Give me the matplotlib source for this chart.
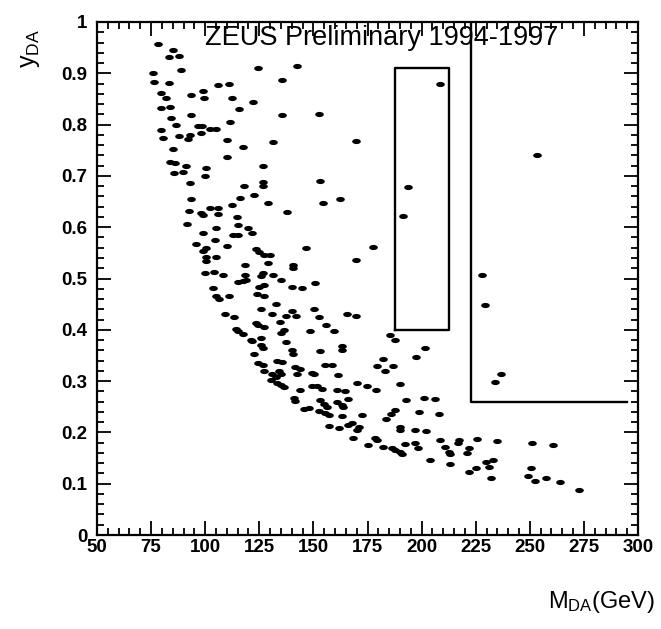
import numpy as np
import matplotlib
matplotlib.use("Agg")
import matplotlib.pyplot as plt
from matplotlib.path import Path
from matplotlib.ticker import AutoMinorLocator, FuncFormatter

plt.rcParams['font.family'] = ['Liberation Sans', 'DejaVu Sans']
plt.rcParams['mathtext.default'] = 'regular'

# selected NC events, (M_DA [GeV], y_DA)
m_da = [
    78.3, 85.2, 83.3, 87.8, 88.7, 124.2, 75.7, 76.3, 83.2, 135.6, 105.8, 110.9,
    79.5, 82.1, 93.3, 98.9, 99.4, 112.2, 122.3, 79.8, 83.9, 115.4, 84.4, 93.6,
    135.6, 86.7, 111.6, 96.5, 98.5, 79.5, 80.6, 87.9, 92.8, 92.0, 98.2, 102.0,
    105.0, 85.2, 110.1, 117.3, 131.5, 83.9, 85.9, 91.3, 100.5, 110.1, 126.9,
    85.6, 89.8, 99.7, 92.8, 117.7, 126.5, 126.5,
    142.5, 152.4, 169.7, 153.2, 208.7, 193.7,
    154.3, 162.1, 137.6, 191.4, 146.8, 177.6, 169.6, 140.7, 140.7, 134.9,
    140.2, 144.8, 150.9, 150.1, 140.2, 142.1, 137.2, 152.8, 165.7, 169.7,
    156.0, 136.4, 148.6, 159.6, 185.6, 187.9,
    93.3, 116.1, 122.6, 129.2, 92.5, 98.2, 98.9, 102.0, 105.8, 106.1, 112.4,
    91.7, 114.5, 105.0, 115.0, 119.6, 98.9, 112.7, 115.0, 121.8, 104.7, 95.9,
    100.5, 99.2, 109.9, 123.4, 125.0, 127.2, 129.8, 100.5, 100.5, 105.0,
    129.2, 118.3, 99.7, 104.0, 108.4, 118.3, 118.8, 126.9, 125.7, 131.5,
    115.0, 117.3, 103.5, 124.9, 127.2, 105.0, 106.3, 110.9, 123.9, 127.2,
    132.6, 125.7, 109.3, 113.1, 131.0, 123.4, 124.2, 127.2, 134.5, 114.2,
    115.0, 117.3, 121.1, 125.7, 134.9,
    121.8, 125.7, 126.5, 122.6, 137.2, 124.2, 126.5, 133.3, 135.6, 127.2,
    131.0, 132.6, 130.3, 134.1, 134.9, 133.3, 134.9, 136.4,
    140.2, 140.7, 152.9, 163.1, 163.4, 201.7, 197.2, 182.2, 141.7, 144.0,
    155.5, 158.8, 179.2, 186.8, 183.0, 142.5, 149.4, 150.1, 161.2, 144.0,
    149.4, 151.7, 154.0, 160.8, 164.7, 170.3, 174.6, 178.8, 189.9, 141.0,
    141.7, 152.9, 154.7, 156.3, 160.8, 163.1, 163.9, 166.2, 192.9, 200.9,
    206.2, 145.6, 147.9, 152.4, 155.5, 157.0, 172.3, 163.4, 187.9, 186.0,
    183.5, 198.8, 207.9, 157.4, 161.6, 166.2, 167.7, 171.2, 170.0, 168.2,
    189.9, 190.2, 196.8, 202.1, 178.4, 179.4, 175.4, 182.2, 186.1, 187.6,
    190.2, 190.9, 192.2, 196.8, 198.3, 204.0, 208.3, 210.6, 212.8, 213.1,
    217.4, 216.7, 213.1, 222.0, 221.2, 225.4, 222.0, 225.1,
    236.8, 233.8, 235.0, 229.6, 231.2, 233.0, 231.9, 251.1, 260.7, 250.6,
    249.2, 252.6, 257.5, 263.8, 272.9,
    253.3, 228.0, 229.4,
]
y_da = [
    0.957, 0.945, 0.932, 0.933, 0.906, 0.911, 0.900, 0.883, 0.882, 0.886, 0.878, 0.880,
    0.862, 0.852, 0.857, 0.865, 0.851, 0.852, 0.844, 0.832, 0.834, 0.830, 0.812, 0.818,
    0.818, 0.800, 0.805, 0.798, 0.798, 0.790, 0.774, 0.777, 0.779, 0.772, 0.783, 0.791,
    0.791, 0.753, 0.770, 0.756, 0.766, 0.727, 0.725, 0.719, 0.715, 0.737, 0.719,
    0.705, 0.707, 0.699, 0.686, 0.681, 0.689, 0.680,
    0.914, 0.820, 0.769, 0.691, 0.879, 0.678,
    0.648, 0.654, 0.629, 0.621, 0.560, 0.562, 0.536, 0.520, 0.526, 0.497,
    0.483, 0.481, 0.492, 0.441, 0.436, 0.427, 0.427, 0.425, 0.430, 0.426,
    0.409, 0.399, 0.397, 0.397, 0.389, 0.381,
    0.655, 0.657, 0.663, 0.647, 0.632, 0.628, 0.624, 0.637, 0.637, 0.626, 0.643,
    0.607, 0.619, 0.599, 0.604, 0.599, 0.588, 0.585, 0.585, 0.588, 0.575, 0.567,
    0.560, 0.554, 0.564, 0.557, 0.551, 0.546, 0.546, 0.541, 0.534, 0.541,
    0.531, 0.526, 0.511, 0.513, 0.507, 0.507, 0.498, 0.511, 0.505, 0.506,
    0.493, 0.495, 0.482, 0.483, 0.487, 0.466, 0.461, 0.466, 0.469, 0.466,
    0.451, 0.440, 0.430, 0.425, 0.430, 0.414, 0.409, 0.406, 0.415, 0.402,
    0.397, 0.391, 0.381, 0.384, 0.394,
    0.378, 0.370, 0.365, 0.352, 0.376, 0.335, 0.331, 0.340, 0.337, 0.319,
    0.313, 0.308, 0.303, 0.319, 0.313, 0.296, 0.293, 0.288,
    0.361, 0.352, 0.359, 0.368, 0.361, 0.365, 0.347, 0.344, 0.327, 0.324,
    0.331, 0.331, 0.330, 0.329, 0.320, 0.314, 0.316, 0.313, 0.311, 0.282,
    0.290, 0.291, 0.285, 0.283, 0.281, 0.296, 0.291, 0.282, 0.294, 0.267,
    0.262, 0.264, 0.255, 0.250, 0.260, 0.254, 0.250, 0.265, 0.264, 0.268,
    0.265, 0.246, 0.247, 0.241, 0.237, 0.234, 0.234, 0.231, 0.243, 0.235,
    0.226, 0.239, 0.236, 0.213, 0.209, 0.215, 0.218, 0.210, 0.205, 0.190,
    0.211, 0.205, 0.205, 0.202, 0.190, 0.185, 0.176, 0.172, 0.169, 0.166,
    0.161, 0.157, 0.177, 0.180, 0.170, 0.146, 0.185, 0.172, 0.161, 0.157,
    0.185, 0.179, 0.138, 0.170, 0.159, 0.187, 0.122, 0.130,
    0.314, 0.299, 0.184, 0.143, 0.133, 0.146, 0.112, 0.180, 0.176, 0.131,
    0.115, 0.106, 0.112, 0.104, 0.087,
    0.740, 0.507, 0.448,
]

# search regions
box_m = [187.5, 212.5]
box_y = [0.40, 0.91]
cut_m = [223.0, 295.0]
cut_y = 0.26

x_ticks = np.arange(50, 301, 25)
y_ticks = np.arange(0, 1.01, 0.1)

# flattened dot, like the printed event markers
t = np.linspace(0, 2 * np.pi, 40)
dot = Path(np.column_stack([np.cos(t), 0.6 * np.sin(t)]), closed=True)

fig = plt.figure(figsize=(6.61, 6.29), dpi=100)
ax = fig.add_axes([97 / 661, 1 - 535 / 629, 541 / 661, 513 / 629])

ax.plot(m_da, y_da, linestyle='none', marker=dot, markersize=6.2,
        color='black', markeredgewidth=0)

ax.plot([box_m[0], box_m[1], box_m[1], box_m[0], box_m[0]],
        [box_y[0], box_y[0], box_y[1], box_y[1], box_y[0]],
        color='black', lw=1.7)
ax.plot([cut_m[0], cut_m[0], cut_m[1]], [1.0, cut_y, cut_y],
        color='black', lw=1.7)

ax.set_xlim(50, 300)
ax.set_ylim(0, 1)
ax.set_xticks(x_ticks)
ax.set_yticks(y_ticks)
ax.xaxis.set_minor_locator(AutoMinorLocator(5))
ax.yaxis.set_minor_locator(AutoMinorLocator(5))
ax.yaxis.set_major_formatter(FuncFormatter(lambda v, p: f'{v:g}'))
ax.tick_params(which='both', direction='in', top=True, right=True,
               width=1.3, labelsize=13.5)
ax.tick_params(which='major', length=10)
ax.tick_params(axis='y', which='major', pad=7)
ax.tick_params(axis='x', which='major', pad=3)
ax.tick_params(which='minor', length=5)
for lab in ax.get_xticklabels() + ax.get_yticklabels():
    lab.set_fontweight('bold')
for s in ax.spines.values():
    s.set_linewidth(1.6)

ax.text(0.527, 0.969, 'ZEUS Preliminary 1994-1997', transform=ax.transAxes,
        ha='center', va='center', fontsize=19.5)

fig.text(30 / 661, 1 - 48 / 629, '$y_{DA}$', rotation=90, ha='center',
         va='center', fontsize=18)
fig.text(602 / 661, 1 - 602 / 629, '$M_{DA}$(GeV)', ha='center',
         va='center', fontsize=17)

fig.savefig('out.png', dpi=100)
